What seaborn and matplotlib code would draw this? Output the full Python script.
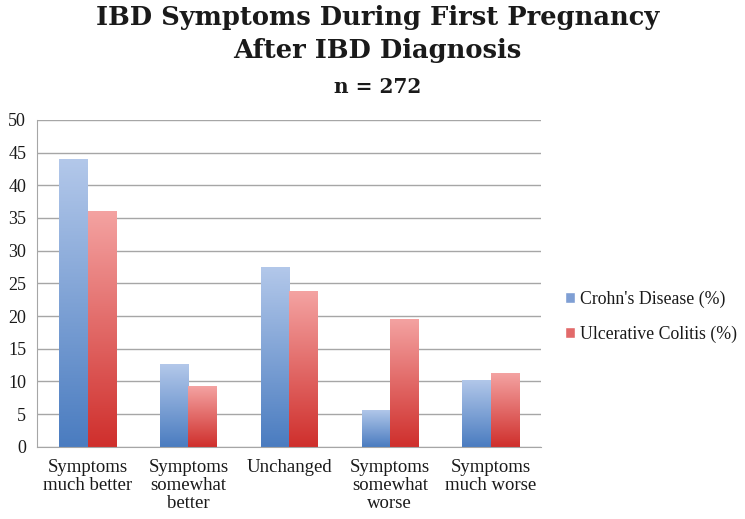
import numpy as np
import pandas as pd
import matplotlib
matplotlib.use('Agg')
import matplotlib.pyplot as plt
import seaborn as sns
from matplotlib.colors import LinearSegmentedColormap
from matplotlib.patches import Patch

# 데이터
categories = ['Symptoms\nmuch better', 'Symptoms\nsomewhat\nbetter', 'Unchanged',
              'Symptoms\nsomewhat\nworse', 'Symptoms\nmuch worse']
crohns = [44.0, 12.6, 27.5, 5.7, 10.3]
colitis = [36.1, 9.3, 23.8, 19.6, 11.3]
series = ["Crohn's Disease (%)", "Ulcerative Colitis (%)"]

df = pd.DataFrame({
    'category': categories * 2,
    'value': crohns + colitis,
    'series': [series[0]] * len(categories) + [series[1]] * len(categories),
})

sns.set_style('white')
plt.rcParams['font.family'] = ['Liberation Serif', 'DejaVu Serif']
plt.rcParams['text.color'] = '#1a1a1a'
plt.rcParams['xtick.color'] = '#1a1a1a'
plt.rcParams['ytick.color'] = '#1a1a1a'

fig = plt.figure(figsize=(7.45, 5.19), dpi=100)
ax = fig.add_axes([0.05, 0.139, 0.676, 0.63])

pal = {series[0]: '#7f9fd4', series[1]: '#e26a6a'}
sns.barplot(data=df, x='category', y='value', hue='series', palette=pal,
            width=0.56, ax=ax, legend=False, saturation=1)

# 그라데이션 채우기
grads = {
    0: LinearSegmentedColormap.from_list('b', ['#4a7cc0', '#b3c8ea']),
    1: LinearSegmentedColormap.from_list('r', ['#cf2f2c', '#f4a3a2']),
}
grad = np.linspace(0, 1, 256).reshape(-1, 1)
for i, container in enumerate(ax.containers):
    for bar in container:
        x0, w, h = bar.get_x(), bar.get_width(), bar.get_height()
        im = ax.imshow(grad, cmap=grads[i], origin='lower', aspect='auto',
                       extent=[x0, x0 + w, 0, h], zorder=2)
        im.set_clip_path(bar)
        bar.set_facecolor('none')
        bar.set_edgecolor('none')

ax.set_xlim(-0.5, len(categories) - 0.5)
ax.set_ylim(0, 50)
ax.set_yticks(range(0, 51, 5))
ax.yaxis.grid(True, color='#a6a6a6', linewidth=1.0)
ax.set_axisbelow(True)
ax.set_xlabel('')
ax.set_ylabel('')
for s in ['top', 'right']:
    ax.spines[s].set_visible(False)
ax.spines['left'].set_color('#a6a6a6')
ax.spines['bottom'].set_color('#a6a6a6')

ax.set_xticks(np.arange(-0.5, len(categories)), minor=True)
ax.tick_params(axis='x', which='major', length=0, pad=9, labelsize=13.5)
ax.tick_params(axis='x', which='minor', length=5, color='#a6a6a6', direction='out')
ax.tick_params(axis='y', length=5, color='#a6a6a6', labelsize=13, pad=3)
ax.set_xticks(range(len(categories)))
ax.set_xticklabels(categories, va='top', ha='center', linespacing=1.08)

handles = [Patch(facecolor='#7f9fd4', label=series[0]),
           Patch(facecolor='#e26a6a', label=series[1])]
fig.legend(handles=handles, loc='center left', bbox_to_anchor=(0.737, 0.39),
           frameon=False, fontsize=12.8, handlelength=0.55, handleheight=0.55,
           handletextpad=0.3, labelspacing=1.0)

fig.text(0.507, 0.99, 'IBD Symptoms During First Pregnancy\nAfter IBD Diagnosis',
         ha='center', va='top', fontsize=18.5, fontweight='bold', linespacing=1.38,
         family='DejaVu Serif')
fig.text(0.507, 0.833, 'n = 272', ha='center', va='center', fontsize=14.5,
         fontweight='bold', family='DejaVu Serif')

fig.savefig('out.png', dpi=100)
